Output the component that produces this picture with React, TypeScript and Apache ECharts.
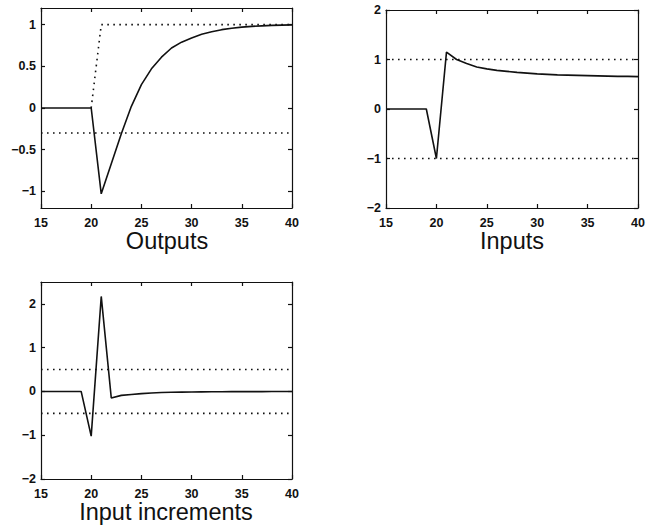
import React, { useEffect, useRef } from "react";
import * as echarts from "echarts";

const steps = [15, 16, 17, 18, 19, 20, 21, 22, 23, 24, 25, 26, 27, 28, 29, 30, 31, 32, 33, 34, 35, 36, 37, 38, 39, 40];
const outputs = [0, 0, 0, 0, 0, 0, -1.03, -0.67, -0.31, 0.02, 0.28, 0.47, 0.61, 0.72, 0.79, 0.84, 0.885, 0.915, 0.94, 0.957, 0.97, 0.979, 0.986, 0.991, 0.994, 0.997];
const inputs = [0, 0, 0, 0, 0, -1.0, 1.15, 1.0, 0.92, 0.85, 0.81, 0.78, 0.76, 0.74, 0.725, 0.71, 0.70, 0.69, 0.685, 0.68, 0.675, 0.67, 0.665, 0.66, 0.66, 0.655];
const increments = [0, 0, 0, 0, 0, -1.02, 2.17, -0.15, -0.09, -0.07, -0.05, -0.035, -0.025, -0.02, -0.015, -0.012, -0.01, -0.008, -0.006, -0.005, -0.004, -0.003, -0.003, -0.002, -0.002, -0.002];
const setpointX = [20, 21, 40];
const setpointY = [0, 1, 1];
const outputLimits = [-0.3];
const inputLimits = [1, -1];
const incrementLimits = [0.5, -0.5];
const outputTicks = [-1, -0.5, 0, 0.5, 1];
const inputTicks = [-2, -1, 0, 1, 2];
const incrementTicks = [-2, -1, 0, 1, 2];
const titles = ["Outputs", "Inputs", "Input increments"];

const FONT = "Liberation Sans";
const INK = "#111";

const fmt = (v: number) => String(v).replace("-", "\u2212");

function App() {
  const ref = useRef<HTMLDivElement>(null);
  useEffect(() => {
    if (!ref.current) return;
    const chart = echarts.init(ref.current, null, { renderer: "svg" });

    const grids = [
      { left: 41, top: 8, width: 251, height: 200 },
      { left: 386, top: 10, width: 252, height: 198 },
      { left: 41, top: 282, width: 251, height: 197 },
    ];
    const yRanges = [
      { min: -1.2, max: 1.2, ticks: outputTicks },
      { min: -2, max: 2, ticks: inputTicks },
      { min: -2, max: 2.5, ticks: incrementTicks },
    ];

    const xAxis: any[] = [];
    const yAxis: any[] = [];
    grids.forEach((_, i) => {
      const lineStyle = { color: INK, width: 1.2 };
      xAxis.push({
        type: "value", gridIndex: i, min: 15, max: 40, interval: 5, position: "bottom",
        axisLine: { show: true, onZero: false, lineStyle },
        axisTick: { show: true, inside: true, length: 4, lineStyle },
        axisLabel: { show: true, margin: 8, color: INK, fontFamily: FONT, fontSize: 12.5, fontWeight: "bold", formatter: (v: number) => fmt(v) },
        splitLine: { show: false },
      });
      xAxis.push({
        type: "value", gridIndex: i, min: 15, max: 40, interval: 5, position: "top",
        axisLine: { show: true, onZero: false, lineStyle },
        axisTick: { show: true, inside: true, length: 4, lineStyle },
        axisLabel: { show: false },
        splitLine: { show: false },
      });
      const r = yRanges[i];
      yAxis.push({
        type: "value", gridIndex: i, min: r.min, max: r.max, position: "left",
        axisLine: { show: true, onZero: false, lineStyle },
        axisTick: { show: true, inside: true, length: 4, lineStyle, customValues: r.ticks },
        axisLabel: { show: true, margin: 5, color: INK, fontFamily: FONT, fontSize: 12.5, fontWeight: "bold", customValues: r.ticks, formatter: (v: number) => fmt(v) },
        splitLine: { show: false },
      });
      yAxis.push({
        type: "value", gridIndex: i, min: r.min, max: r.max, position: "right",
        axisLine: { show: true, onZero: false, lineStyle },
        axisTick: { show: true, inside: true, length: 4, lineStyle, customValues: r.ticks },
        axisLabel: { show: false },
        splitLine: { show: false },
      });
    });

    const solid = (name: string, i: number, ys: number[]) => ({
      name, type: "line", xAxisIndex: 2 * i, yAxisIndex: 2 * i,
      data: steps.map((x, k) => [x, ys[k]]),
      showSymbol: false, symbol: "none",
      lineStyle: { color: INK, width: 1.6 },
      z: 3,
    });
    const dotted = (name: string, i: number, xs: number[], ys: number[]) => ({
      name, type: "line", xAxisIndex: 2 * i, yAxisIndex: 2 * i,
      data: xs.map((x, k) => [x, ys[k]]),
      showSymbol: false, symbol: "none",
      lineStyle: { color: INK, width: 1.6, type: [1.6, 4.4] },
      z: 2,
    });
    const limit = (name: string, i: number, v: number) => dotted(name, i, [15, 40], [v, v]);

    const series: any[] = [
      solid("Outputs", 0, outputs),
      dotted("Setpoint", 0, setpointX, setpointY),
      ...outputLimits.map((v, k) => limit("Output limit " + k, 0, v)),
      solid("Inputs", 1, inputs),
      ...inputLimits.map((v, k) => limit("Input limit " + k, 1, v)),
      solid("Input increments", 2, increments),
      ...incrementLimits.map((v, k) => limit("Increment limit " + k, 2, v)),
    ];

    const titlePos = [
      { x: 167, y: 241 },
      { x: 512, y: 241 },
      { x: 166, y: 512 },
    ];

    chart.setOption({
      animation: false,
      backgroundColor: "#fff",
      grid: grids.map((g) => ({ ...g, containLabel: false })),
      xAxis,
      yAxis,
      series,
      graphic: titles.map((t, i) => ({
        type: "text",
        x: titlePos[i].x,
        y: titlePos[i].y,
        style: { text: t, fill: INK, font: `23.5px "${FONT}"`, textAlign: "center", textVerticalAlign: "middle" },
      })),
    });
    return () => chart.dispose();
  }, []);
  return (
    <div
      ref={ref}
      style={{ position: "fixed", left: 0, top: 0, width: 658, height: 525, background: "#fff" }}
    />
  );
}

export default App;
